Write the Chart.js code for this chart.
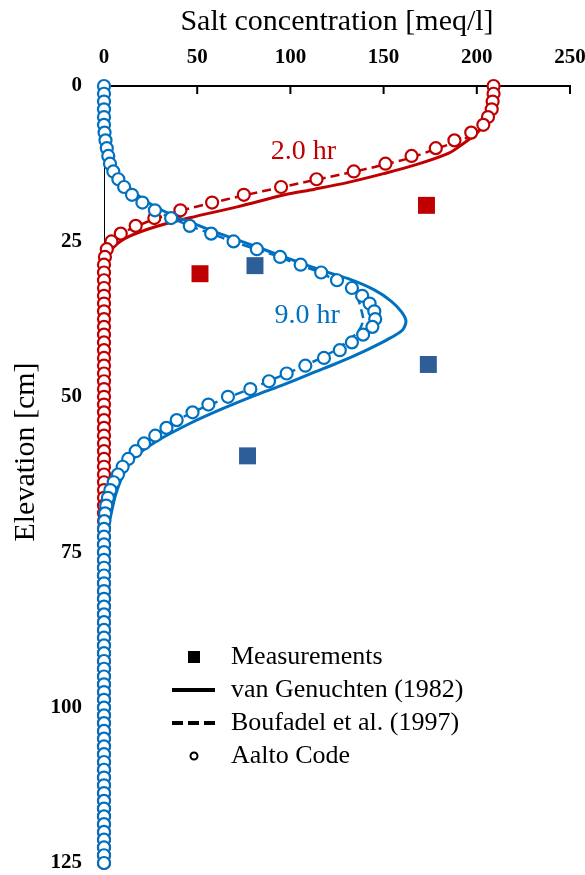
<!DOCTYPE html>
<html>
<head>
<meta charset="utf-8">
<script src="https://cdn.jsdelivr.net/npm/chart.js@4.4.0/dist/chart.umd.min.js"></script>
<style>
  html, body { margin: 0; padding: 0; background: #fff; }
  #wrap { width: 585px; height: 875px; }
</style>
</head>
<body>
<div id="wrap"><canvas id="saltChart" width="585" height="875"></canvas></div>
<script>
// node elevations of the Aalto code output [cm]
const elevGrid = [
  0, 1.25, 2.5, 3.75, 5, 6.25, 7.5, 8.75,
  10, 11.25, 12.5, 13.75, 15, 16.25, 17.5, 18.75,
  20, 21.25, 22.5, 23.75, 25, 26.25, 27.5, 28.75,
  30, 31.25, 32.5, 33.75, 35, 36.25, 37.5, 38.75,
  40, 41.25, 42.5, 43.75, 45, 46.25, 47.5, 48.75,
  50, 51.25, 52.5, 53.75, 55, 56.25, 57.5, 58.75,
  60, 61.25, 62.5, 63.75, 65, 66.25, 67.5, 68.75,
  70, 71.25, 72.5, 73.75, 75, 76.25, 77.5, 78.75,
  80, 81.25, 82.5, 83.75, 85, 86.25, 87.5, 88.75,
  90, 91.25, 92.5, 93.75, 95, 96.25, 97.5, 98.75,
  100, 101.25, 102.5, 103.75, 105, 106.25, 107.5, 108.75,
  110, 111.25, 112.5, 113.75, 115, 116.25, 117.5, 118.75,
  120, 121.25, 122.5, 123.75, 125
];

// Aalto code, 2.0 hr [meq/l]
const aaltoRed = [
  209, 209, 208.5, 208, 206, 203.5, 197, 188,
  178, 165, 151, 134, 114, 95, 75, 58,
  41, 27, 17, 9, 4, 1.5, 0.5, 0,
  0, 0, 0, 0, 0, 0, 0, 0,
  0, 0, 0, 0, 0, 0, 0, 0,
  0, 0, 0, 0, 0, 0, 0, 0,
  0, 0, 0, 0, 0, 0, 0, 0,
  0, 0, 0, 0, 0, 0, 0, 0,
  0, 0, 0, 0, 0, 0, 0, 0,
  0, 0, 0, 0, 0, 0, 0, 0,
  0, 0, 0, 0, 0, 0, 0, 0,
  0, 0, 0, 0, 0, 0, 0, 0,
  0, 0, 0, 0, 0
];

// Aalto code, 9.0 hr [meq/l]
const aaltoBlue = [
  0, 0, 0, 0, 0, 0, 0.3, 0.8,
  1.5, 2.3, 3.2, 5, 7.7, 10.8, 15, 20.6,
  27.3, 36, 46, 57.5, 69.5, 82, 94.5, 105.5,
  116.5, 125, 133, 138.5, 142.5, 145, 145.5, 144,
  139, 133, 126.5, 118, 108, 98, 88.5, 78.5,
  66.5, 56, 47.5, 39, 33.5, 27.5, 21.5, 17,
  13, 10, 7.5, 5.2, 3.4, 2.1, 1.2, 0.6,
  0.2, 0, 0, 0, 0, 0, 0, 0,
  0, 0, 0, 0, 0, 0, 0, 0,
  0, 0, 0, 0, 0, 0, 0, 0,
  0, 0, 0, 0, 0, 0, 0, 0,
  0, 0, 0, 0, 0, 0, 0, 0,
  0, 0, 0, 0, 0
];

// van Genuchten (1982)
const vgRedConc = [208.5, 208, 206.5, 200, 193, 185, 167, 150, 131, 113, 97, 72, 46, 28, 13.5, 5.5, 2.5, 0.8, 0];
const vgRedElev = [0, 2.5, 5, 7.6, 9.2, 10.8, 12.7, 14.1, 15.5, 16.6, 17.5, 19.4, 21.2, 22.6, 24.2, 25.8, 27.4, 29, 31];
const vgBlueConc = [0, 0, 0.5, 1.5, 3, 5.5, 9.5, 15, 21, 28, 37, 47, 58, 70, 82, 94, 105, 116, 131, 145, 154, 159.5, 162,
  160, 152, 140, 125, 110, 95, 80, 63, 46, 28, 15.5, 10, 6.3, 3.7, 1.8, 0.6, 0];
const vgBlueElev = [0, 6, 8.5, 10.5, 12.2, 13.8, 15.3, 16.8, 18.2, 19.5, 20.8, 22, 23.3, 24.6, 25.9, 27.2, 28.4, 29.6, 31, 32.8, 34.6, 36.3, 37.8,
  39.3, 40.8, 42.6, 44.6, 46.4, 48.2, 49.9, 52, 54.3, 57.2, 60, 62.7, 65.7, 69, 72, 75, 78];

// Boufadel et al. (1997)
const bfRedConc = [209, 208.5, 207, 202, 192, 179, 166, 151, 134, 115, 95, 75, 58, 42, 28, 18, 9, 4, 1.5, 0.3, 0];
const bfRedElev = [0, 2.5, 5, 7, 8.7, 10, 11.4, 12.6, 13.8, 15, 16.3, 17.6, 18.8, 20, 21.3, 22.5, 23.8, 25, 26.5, 28, 30];
const bfBlueConc = [0, 0, 1, 2.5, 5, 10.5, 20, 27, 36, 46, 57, 69, 82, 94, 105, 116, 124, 131, 136, 138, 139,
  137, 131, 124, 116, 106, 96, 86, 76, 65, 55, 46, 38, 31, 25, 19, 14, 10, 7, 4.5, 2.5, 1.2, 0.4, 0];
const bfBlueElev = [0, 7, 9, 11.5, 13.7, 16, 18.6, 20, 21.2, 22.5, 23.7, 25, 26.3, 27.5, 28.8, 30, 31.3, 32.7, 34.2, 36, 37.6,
  39.2, 41, 42.5, 43.8, 45.2, 46.5, 47.8, 49, 50.3, 51.5, 52.7, 54, 55.3, 56.6, 58, 59.5, 61, 62.5, 64, 65.7, 67.3, 69, 71];

// Measurements
const measRedConc = [173, 51.5];
const measRedElev = [19.2, 30.2];
const measBlueConc = [81, 174, 77];
const measBlueElev = [28.9, 44.8, 59.5];

const legendLabels = ['Measurements', 'van Genuchten (1982)', 'Boufadel et al. (1997)', 'Aalto Code'];

const RED = '#C00000';
const BLUE = '#0070C0';
const BLUE_SQ = '#2E5E98';
const SERIF = "'Liberation Serif', 'Times New Roman', serif";

const toXY = (xs, ys) => xs.map((v, i) => ({ x: v, y: ys[i] }));

function lineSet(xs, ys, color, dashed) {
  return {
    data: toXY(xs, ys),
    showLine: true,
    clip: false,
    borderColor: color,
    borderWidth: dashed ? 2.5 : 3,
    borderDash: dashed ? [9, 5] : [],
    pointRadius: 0,
    tension: 0.3,
    fill: false
  };
}

function circleSet(values, color) {
  return {
    data: toXY(values, elevGrid),
    showLine: false,
    clip: false,
    pointStyle: 'circle',
    pointRadius: 6,
    pointBorderWidth: 2.2,
    pointBorderColor: color,
    pointBackgroundColor: '#fff'
  };
}

function squareSet(xs, ys, color) {
  return {
    data: toXY(xs, ys),
    showLine: false,
    clip: false,
    pointStyle: 'rect',
    pointRadius: 12,
    pointBorderWidth: 0,
    pointBorderColor: color,
    pointBackgroundColor: color
  };
}

// ticks of the top axis point down into the plot, and the rotated y title
const axisExtras = {
  id: 'axisExtras',
  afterDraw(chart) {
    const { ctx, chartArea } = chart;
    const sx = chart.scales.x;
    ctx.save();
    ctx.strokeStyle = '#000';
    ctx.lineWidth = 2;
    sx.ticks.forEach((t, i) => {
      if (t.value === 0) return;
      const px = sx.getPixelForTick(i);
      ctx.beginPath();
      ctx.moveTo(px, chartArea.top);
      ctx.lineTo(px, chartArea.top + 8);
      ctx.stroke();
    });
    ctx.translate(26, 452);
    ctx.rotate(-Math.PI / 2);
    ctx.font = '30px ' + SERIF;
    ctx.fillStyle = '#000';
    ctx.textAlign = 'center';
    ctx.textBaseline = 'middle';
    ctx.fillText('Elevation [cm]', 0, 0);
    ctx.restore();
  }
};

const curveLabels = {
  id: 'curveLabels',
  afterDraw(chart) {
    const { ctx } = chart;
    const sx = chart.scales.x, sy = chart.scales.y;
    ctx.save();
    ctx.font = '28px ' + SERIF;
    ctx.textAlign = 'center';
    ctx.textBaseline = 'middle';
    ctx.fillStyle = RED;
    ctx.fillText('2.0 hr', sx.getPixelForValue(107), sy.getPixelForValue(10.6));
    ctx.fillStyle = BLUE;
    ctx.fillText('9.0 hr', sx.getPixelForValue(109), sy.getPixelForValue(37));
    ctx.restore();
  }
};

const boxLegend = {
  id: 'boxLegend',
  afterDraw(chart) {
    const { ctx, chartArea } = chart;
    const symX = chartArea.left + 90;
    const txtX = chartArea.left + 127;
    ctx.save();
    ctx.fillStyle = '#000';
    ctx.strokeStyle = '#000';
    legendLabels.forEach((label, i) => {
      const y = chartArea.top + 571 + i * 33;
      if (i === 0) {
        ctx.fillRect(symX - 6, y - 6, 12, 12);
      } else if (i === 1 || i === 2) {
        ctx.lineWidth = 4;
        ctx.setLineDash(i === 2 ? [11, 5] : []);
        ctx.beginPath();
        ctx.moveTo(symX - 22, y);
        ctx.lineTo(symX + 21, y);
        ctx.stroke();
        ctx.setLineDash([]);
      } else {
        ctx.lineWidth = 2;
        ctx.beginPath();
        ctx.arc(symX, y, 3.5, 0, Math.PI * 2);
        ctx.stroke();
      }
      ctx.font = '26px ' + SERIF;
      ctx.textAlign = 'left';
      ctx.textBaseline = 'middle';
      ctx.fillText(label, txtX, y);
    });
    ctx.restore();
  }
};

Chart.defaults.font.family = SERIF;
Chart.defaults.color = '#000';

// first dataset is painted last (on top)
new Chart(document.getElementById('saltChart'), {
  type: 'scatter',
  data: {
    datasets: [
      squareSet(measRedConc, measRedElev, RED),
      squareSet(measBlueConc, measBlueElev, BLUE_SQ),
      circleSet(aaltoBlue, BLUE),
      circleSet(aaltoRed, RED),
      lineSet(bfBlueConc, bfBlueElev, BLUE, true),
      lineSet(vgBlueConc, vgBlueElev, BLUE, false),
      lineSet(bfRedConc, bfRedElev, RED, true),
      lineSet(vgRedConc, vgRedElev, RED, false)
    ]
  },
  options: {
    responsive: false,
    animation: false,
    events: [],
    layout: { padding: 0 },
    plugins: {
      legend: { display: false },
      tooltip: { enabled: false }
    },
    scales: {
      x: {
        type: 'linear',
        position: 'top',
        min: 0,
        max: 250,
        ticks: { stepSize: 50, padding: 16, color: '#000', font: { size: 21, weight: 'bold' } },
        grid: { drawOnChartArea: false, drawTicks: false },
        border: { display: true, color: '#000', width: 2 },
        title: {
          display: true,
          text: 'Salt concentration [meq/l]',
          color: '#000',
          font: { size: 30 },
          padding: { top: 4, bottom: 0 }
        },
        afterFit(scale) {
          scale.height = 86;
          scale.paddingLeft = 0;
          scale.paddingRight = 15;
        }
      },
      y: {
        type: 'linear',
        reverse: true,
        min: 0,
        max: 125,
        ticks: { stepSize: 25, padding: 22, color: '#000', font: { size: 21, weight: 'bold', lineHeight: 1 } },
        grid: { drawOnChartArea: false, drawTicks: false },
        border: { display: true, color: '#000', width: 1 },
        title: { display: false },
        afterFit(scale) {
          scale.width = 104;
          scale.paddingTop = 0;
          scale.paddingBottom = 10;
        }
      }
    }
  },
  plugins: [axisExtras, curveLabels, boxLegend]
});
</script>
</body>
</html>
